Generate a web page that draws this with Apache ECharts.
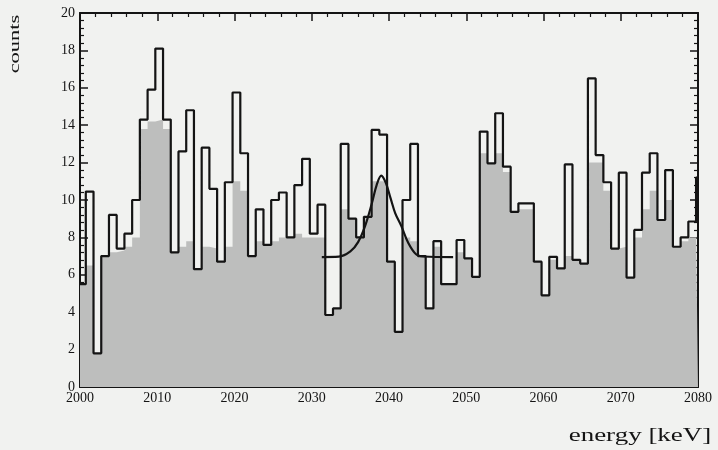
<!DOCTYPE html>
<html>
<head>
<meta charset="utf-8">
<script src="https://cdn.jsdelivr.net/npm/echarts@6/dist/echarts.min.js"></script>
<style>
html,body{margin:0;padding:0;background:#f1f2f0;}
#c{width:718px;height:450px;}
</style>
</head>
<body>
<div id="c"></div>
<script>
// ---- data ----
const xMin = 2000, xMax = 2080;
const firstEdge = 2000.75;   // first full-bin lower edge (keV)
const binWidth = 1;          // keV
// counts per bin: first (partial) bin [2000, firstEdge), then 1 keV bins, last partial bin up to 2080
const counts = [
  5.5, 10.45, 1.8, 7.0, 9.2, 7.4, 8.2, 10.0, 14.3, 15.9,
  18.1, 14.3, 7.2, 12.6, 14.8, 6.3, 12.8, 10.6, 6.7, 10.95,
  15.75, 12.5, 7.0, 9.5, 7.6, 10.0, 10.4, 8.0, 10.8, 12.2,
  8.2, 9.75, 3.85, 4.2, 13.0, 9.0, 8.0, 9.1, 13.75, 13.5,
  6.7, 2.95, 10.0, 13.0, 7.0, 4.2, 7.8, 5.5, 5.5, 7.86,
  6.88, 5.89, 13.66, 11.96, 14.64, 11.78, 9.37, 9.82, 9.82, 6.7,
  4.9, 6.96, 6.34, 11.9, 6.8, 6.6, 16.5, 12.4, 10.95, 7.4,
  11.46, 5.85, 8.4, 11.46, 12.5, 8.93, 11.6, 7.5, 8.0, 8.85,
  11.2
];
// upper envelope of the grey stippled background, per bin
const shadeEnvelope = [
  6.5, 6.5, 6.5, 7.0, 7.2, 7.3, 7.5, 8.0, 13.8, 14.2,
  14.3, 13.8, 7.2, 7.5, 7.8, 7.2, 7.5, 7.4, 7.0, 7.5,
  11.0, 10.5, 7.5, 7.8, 7.6, 7.8, 8.0, 8.0, 8.2, 8.0,
  8.0, 8.0, 8.0, 8.5, 9.5, 9.0, 8.5, 9.5, 11.0, 11.0,
  9.5, 8.0, 8.0, 7.8, 7.5, 7.2, 7.5, 7.3, 7.0, 7.2,
  7.0, 7.0, 12.5, 12.0, 12.5, 11.5, 9.4, 9.5, 9.5, 7.0,
  6.8, 6.8, 6.8, 7.0, 7.0, 7.0, 12.0, 12.0, 10.5, 7.5,
  7.5, 7.5, 8.0, 9.5, 10.5, 9.0, 10.0, 7.5, 7.8, 8.0,
  8.5
];
// Gaussian fit curve [keV, counts]
const fitX = [2031.3, 2033.5, 2035.0, 2036.0, 2036.9, 2037.8, 2038.4, 2039.0, 2039.6, 2040.2, 2040.8, 2041.6, 2042.5, 2043.5, 2044.5, 2048.3];
const fitY = [6.95, 6.97, 7.25, 7.75, 8.6, 9.85, 10.8, 11.3, 10.9, 10.1, 9.3, 8.6, 7.7, 7.1, 6.98, 6.95];
const yMin = 0, yMax = 20, yStep = 2, xStep = 10;
const xTitle = 'energy [keV]';
const yTitle = 'counts';

// ---- build step data from the bins ----
function binStart(i){ return i === 0 ? xMin : firstEdge + (i - 1) * binWidth; }
function stepData(vals){
  const d = vals.map((v, i) => [binStart(i), v]);
  d.push([xMax, vals[vals.length - 1]]);
  return d;
}
const histData = stepData(counts);
const shadeData = stepData(counts.map((v, i) => Math.min(v, shadeEnvelope[i])));
const fitData = fitX.map((x, i) => [x, fitY[i]]);

const FONT = '"Liberation Serif", "DejaVu Serif", serif';
const INK = '#141414';
const tickStyle = {show: true, inside: true, length: 8, lineStyle: {color: INK, width: 1.5}};
const minorStyle = {show: true, splitNumber: 5, length: 4, lineStyle: {color: INK, width: 1.2}};
const lineStyleAxis = {show: true, onZero: false, lineStyle: {color: INK, width: 2}};

const chart = echarts.init(document.getElementById('c'));
chart.setOption({
  backgroundColor: '#f1f2f0',
  animation: false,
  grid: {left: 80, right: 20, top: 13, bottom: 63, show: false},
  xAxis: [
    {
      type: 'value', min: xMin, max: xMax, interval: xStep, position: 'bottom',
      axisLine: lineStyleAxis, axisTick: tickStyle, minorTick: minorStyle,
      splitLine: {show: false},
      axisLabel: {color: INK, fontFamily: FONT, fontSize: 14, margin: 4,
        formatter: v => String(v)}
    },
    {
      type: 'value', min: xMin, max: xMax, interval: xStep, position: 'top',
      axisLine: lineStyleAxis, axisTick: tickStyle, minorTick: minorStyle,
      splitLine: {show: false},
      axisLabel: {show: false}
    }
  ],
  yAxis: [
    {
      type: 'value', min: yMin, max: yMax, interval: yStep, position: 'left',
      axisLine: lineStyleAxis, axisTick: tickStyle, minorTick: minorStyle,
      splitLine: {show: false},
      axisLabel: {color: INK, fontFamily: FONT, fontSize: 14, margin: 5}
    },
    {
      type: 'value', min: yMin, max: yMax, interval: yStep, position: 'right',
      axisLine: lineStyleAxis, axisTick: tickStyle, minorTick: minorStyle,
      splitLine: {show: false},
      axisLabel: {show: false}
    }
  ],
  series: [
    {
      type: 'line', step: 'end', data: shadeData, symbol: 'none', silent: true,
      lineStyle: {width: 0, opacity: 0},
      areaStyle: {color: '#bdbebd', opacity: 1},
      z: 1
    },
    {
      type: 'line', step: 'end', data: histData, symbol: 'none',
      lineStyle: {color: INK, width: 2.2},
      z: 3
    },
    {
      type: 'line', data: fitData, symbol: 'none', smooth: 0.35,
      lineStyle: {color: INK, width: 2.2},
      z: 4
    }
  ],
  graphic: [
    {type: 'text', x: 640, y: 436, scaleX: 1.5, scaleY: 1,
      style: {text: xTitle, font: '18px ' + FONT, fill: INK, textAlign: 'center', textVerticalAlign: 'middle'}},
    {type: 'text', x: 15, y: 44, rotation: Math.PI / 2, scaleX: 1.5, scaleY: 1,
      style: {text: yTitle, font: '15px ' + FONT, fill: INK, textAlign: 'center', textVerticalAlign: 'middle'}}
  ]
});
</script>
</body>
</html>
